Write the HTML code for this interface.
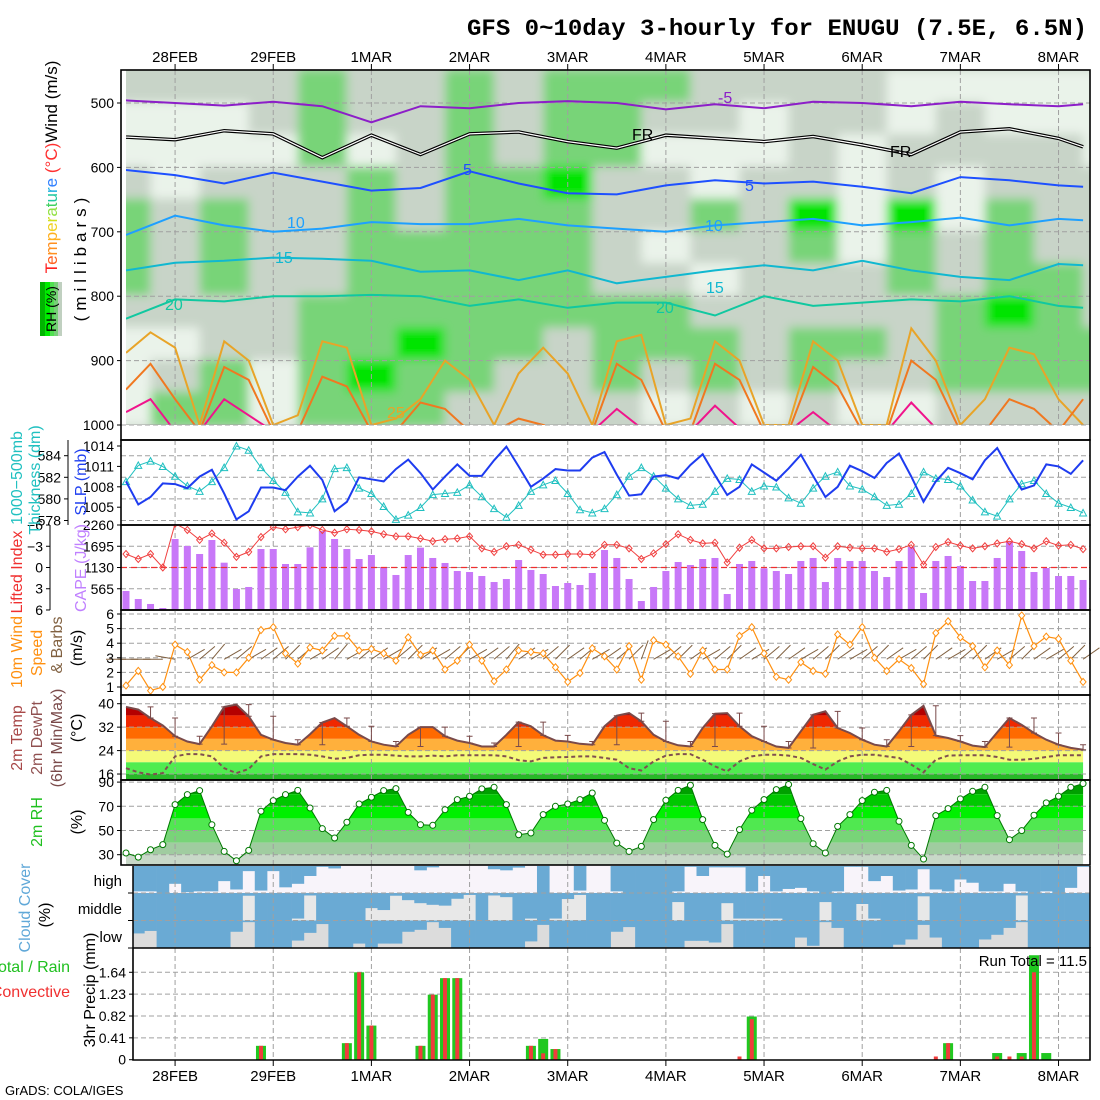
<!DOCTYPE html>
<html><head><meta charset="utf-8"><title>GFS meteogram ENUGU</title>
<style>
html,body{margin:0;padding:0;background:#fff;}
svg{display:block;}
text{font-family:"Liberation Sans",sans-serif;}
</style></head>
<body>
<svg id="c" width="1100" height="1100" viewBox="0 0 1100 1100" xmlns="http://www.w3.org/2000/svg">
<defs>
 <clipPath id="clipTop"><rect x="126" y="70" width="964" height="355"/></clipPath>
 <clipPath id="clipP2"><rect x="121" y="440" width="969" height="85"/></clipPath>
 <clipPath id="clipP3"><rect x="121" y="525" width="969" height="85"/></clipPath>
 <clipPath id="clipP8"><rect x="133" y="948" width="957" height="112"/></clipPath>
 <clipPath id="clipCloud"><rect x="133" y="866" width="957" height="82"/></clipPath>
 <clipPath id="clipTemp"><path id="tempClip" d=""/></clipPath>
 <clipPath id="clipRH"><path id="rhClip" d=""/></clipPath>
 <filter id="blur" x="-5%" y="-5%" width="110%" height="110%"><feGaussianBlur stdDeviation="5"/></filter>
</defs>
<rect x="0" y="0" width="1100" height="1100" fill="#fff"/>
<text x="467" y="35" font-size="23.5" font-weight="bold" textLength="620" lengthAdjust="spacingAndGlyphs" style="font-family:'Liberation Mono',monospace">GFS 0~10day 3-hourly for ENUGU (7.5E, 6.5N)</text>

<g id="gTop"></g>
<g id="gP2"></g>
<g id="gP3"></g>
<g id="gP4"></g>
<g id="gP5"></g>
<g id="gP6"></g>
<g id="gP7"></g>
<g id="gP8"></g>
<g id="gAxis"></g>

<g font-size="17">
 <text transform="translate(57,167) rotate(-90)" text-anchor="middle"><tspan fill="#ff2020">T</tspan><tspan fill="#ff6020">e</tspan><tspan fill="#ff9020">m</tspan><tspan fill="#ffb020">p</tspan><tspan fill="#f0d020">e</tspan><tspan fill="#d0e020">r</tspan><tspan fill="#90e040">a</tspan><tspan fill="#40d060">t</tspan><tspan fill="#20c8a0">u</tspan><tspan fill="#20b0e0">r</tspan><tspan fill="#3080ff">e</tspan><tspan fill="#ff3030"> (°C)</tspan><tspan fill="#000">Wind (m/s)</tspan></text>
 <text transform="translate(86,257) rotate(-90)" text-anchor="middle" letter-spacing="5">(millibars)</text>
 <g>
  <rect x="40" y="282" width="5" height="54" fill="#00b400"/>
  <rect x="45" y="282" width="5" height="54" fill="#00ec00"/>
  <rect x="50" y="282" width="4" height="54" fill="#50e050"/>
  <rect x="54" y="282" width="4" height="54" fill="#78d078"/>
  <rect x="58" y="282" width="4" height="54" fill="#c0d0c0"/>
  <text transform="translate(56,309) rotate(-90)" text-anchor="middle" font-size="14">RH (%)</text>
 </g>
</g>
<g font-size="16">
 <text transform="translate(22,478) rotate(-90)" text-anchor="middle" fill="#20c0c0">1000−500mb</text>
 <text transform="translate(40,480) rotate(-90)" text-anchor="middle" fill="#20c0c0">Thickness (dm)</text>
 <text transform="translate(86,482) rotate(-90)" text-anchor="middle" fill="#2040f0">SLP (mb)</text>
 <text transform="translate(22,572) rotate(-90)" text-anchor="middle" fill="#f03030">Lifted Index</text>
 <text transform="translate(86,568) rotate(-90)" text-anchor="middle" fill="#c080ff">CAPE (J/kg)</text>
 <text transform="translate(22,652) rotate(-90)" text-anchor="middle" fill="#ff9010">10m Wind</text>
 <text transform="translate(42,653) rotate(-90)" text-anchor="middle" fill="#ff9010">Speed</text>
 <text transform="translate(62,645) rotate(-90)" text-anchor="middle" fill="#806040">&amp; Barbs</text>
 <text transform="translate(82,648) rotate(-90)" text-anchor="middle">(m/s)</text>
 <text transform="translate(22,738) rotate(-90)" text-anchor="middle" fill="#a84848">2m Temp</text>
 <text transform="translate(42,738) rotate(-90)" text-anchor="middle" fill="#905050">2m DewPt</text>
 <text transform="translate(62,738) rotate(-90)" text-anchor="middle" fill="#7a4a4a">(6hr Min/Max)</text>
 <text transform="translate(82,728) rotate(-90)" text-anchor="middle">(°C)</text>
 <text transform="translate(42,822) rotate(-90)" text-anchor="middle" fill="#20c020">2m RH</text>
 <text transform="translate(82,822) rotate(-90)" text-anchor="middle">(%)</text>
 <text transform="translate(30,908) rotate(-90)" text-anchor="middle" fill="#60a8d8">Cloud Cover</text>
 <text transform="translate(50,915) rotate(-90)" text-anchor="middle">(%)</text>
 <text x="70" y="972" text-anchor="end" fill="#20c020">Total / Rain</text>
 <text x="70" y="997" text-anchor="end" fill="#f03030">Convective</text>
 <text transform="translate(95,990) rotate(-90)" text-anchor="middle">3hr Precip (mm)</text>
</g>
<text x="5" y="1095" font-size="13">GrADS: COLA/IGES</text>
<text x="1087" y="966" font-size="15" text-anchor="end">Run Total =  11.5</text>
</svg>

<script>
const days = ['28FEB','29FEB','1MAR','2MAR','3MAR','4MAR','5MAR','6MAR','7MAR','8MAR'];
const pressureTicks = [500,600,700,800,900,1000];
const slpTicks = [1014,1011,1008,1005];
const thickTicks = [584,582,580,578];
const capeTicks = [2260,1695,1130,565];
const liTicks = [-6,-3,0,3,6];
const windTicks = [6,5,4,3,2,1];
const tempTicks = [40,32,24,16];
const rhTicks = [90,70,50,30];
const precipTicks = [1.64,1.23,0.82,0.41,0];
const cloudLabels = ['high','middle','low'];

const slp = [1008.8,1005.4,1006.5,1008.5,1008.4,1007.8,1009.5,1010.5,1007.0,1003.2,
1004.4,1007.9,1007.9,1007.5,1009.5,1011.1,1009.0,1004.4,1005.8,1009.4,
1009.1,1008.8,1010.6,1012.0,1010.0,1007.6,1009.5,1011.3,1009.6,1009.6,
1011.9,1013.9,1011.0,1008.0,1009.2,1010.6,1010.4,1010.4,1012.3,1013.1,
1009.8,1006.7,1006.9,1009.5,1009.7,1009.2,1011.2,1012.8,1009.7,1006.8,
1008.0,1011.3,1010.1,1008.9,1010.7,1012.7,1009.6,1006.5,1008.0,1011.1,
1010.3,1009.3,1011.5,1012.9,1009.5,1005.8,1008.8,1010.8,1010.0,1009.1,
1011.9,1013.7,1010.5,1007.6,1008.2,1011.3,1011.0,1009.9,1011.9];
const thickness = [581.6,583.1,583.5,583.0,582.1,581.2,580.7,581.6,582.9,584.9,
584.5,582.9,581.7,580.6,578.8,578.7,580.0,582.8,582.9,581.0,
580.5,579.3,578.1,578.5,579.2,580.4,580.5,580.6,581.3,580.2,
579.1,578.3,579.4,580.7,581.3,581.7,580.5,579.0,578.7,579.1,
580.4,582.1,582.9,582.1,581.0,580.0,579.4,579.5,580.7,581.9,
581.8,580.7,581.2,581.1,580.1,579.6,581.0,582.1,582.5,581.2,
580.9,580.2,579.4,579.5,580.5,582.5,581.9,581.8,581.2,579.9,
578.8,578.4,580.0,581.4,581.7,580.5,579.6,579.2,578.7];
const cape = [505,292,160,53,1888,1702,1489,1861,1258,558,
612,1622,1622,1223,1223,1666,2100,1888,1622,1356,
1462,1143,931,1462,1657,1383,1250,1037,1010,904,
744,824,1329,1064,957,638,718,665,984,1595,
1383,824,239,612,1037,1276,1197,1356,1383,425,
1223,1303,1108,1037,957,1303,1383,744,1383,1303,
1303,1037,877,1303,1675,452,1303,1436,1170,771,
771,1383,1808,1569,1010,1117,904,904,798];
const liftedIndex = [-1.9,-1.2,-1.9,0,-6.2,-5.3,-3.9,-4.8,-3.5,-1.5,
-2.2,-4.3,-5.7,-5.4,-5.7,-6,-5.3,-4.9,-5.4,-5.3,
-5.1,-4.7,-4.4,-4.4,-4.1,-3.7,-4.0,-4.1,-4.4,-2.7,
-2.2,-3.0,-3.2,-2.5,-1.8,-1.8,-1.9,-1.9,-1.8,-3.2,
-3.2,-2.7,-1.2,-2.0,-3.3,-4.7,-3.9,-3.4,-3.5,-0.7,
-2.8,-3.9,-2.7,-2.7,-2.9,-3.0,-3.0,-1.4,-3.0,-2.8,
-2.7,-2.7,-2.2,-2.6,-3.2,-0.4,-2.9,-3.6,-3.1,-2.7,
-3.0,-3.4,-3.7,-3.3,-2.7,-3.7,-3.1,-3.2,-2.6];
const windSpeed = [1.1,2.1,0.75,1.0,3.9,3.4,1.5,2.5,2.0,2.0,
3.0,4.9,5.1,3.3,2.6,3.7,3.5,4.5,4.5,3.5,
3.6,3.3,2.8,4.4,3.2,3.5,2.2,2.8,3.9,2.8,
1.4,2.2,3.5,3.4,3.3,2.35,1.35,1.95,3.65,3.1,
2.2,3.8,1.5,4.2,3.9,3.1,1.9,3.5,2.2,2.2,
4.5,5.1,3.3,1.7,1.5,2.7,2.1,1.9,4.6,3.9,
5.1,3.0,2.1,2.9,2.3,1.2,4.7,5.5,4.4,3.8,
2.35,3.5,2.5,5.9,3.8,4.45,4.3,2.8,1.35];
const windDir = [90,90,90,90,100,240,230,220,240,230,
240,235,230,225,230,240,235,220,240,230,
235,240,230,225,235,240,230,225,240,235,
230,220,235,240,230,225,235,230,240,235,
230,225,200,240,230,225,235,240,230,225,
235,240,230,225,235,240,230,225,235,240,
230,225,235,240,230,225,235,240,230,225,
235,240,230,225,235,240,230,225,235];
const temp2m = [38.9,38.0,35.1,32.6,28.9,27.1,26.2,32.3,38.9,39.7,
35.7,29.4,27.7,26.6,26.0,29.6,33.6,35.1,32.3,29.4,
27.1,26.0,25.4,29.4,32.0,32.0,28.9,27.4,26.6,25.4,
25.4,29.4,33.7,32.3,29.2,27.4,27.1,26.3,26.0,32.3,
35.9,36.8,34.0,29.4,27.1,25.8,25.4,31.7,36.6,36.8,
32.3,28.9,27.1,25.4,24.9,30.6,36.2,37.4,31.7,30.0,
27.7,26.0,25.4,30.6,36.2,39.3,29.1,28.3,27.1,25.7,
25.2,30.2,35.1,32.8,30.0,27.7,26.0,24.9,24.3];
const dewpt2m = [18.0,16.6,15.8,16.3,22.0,22.8,22.8,22.0,18.0,16.3,
17.7,22.0,22.8,22.8,22.8,22.6,22.0,21.2,21.5,22.4,
22.6,22.6,22.3,22.0,22.0,22.3,22.0,22.4,22.4,22.4,
22.4,22.0,20.7,20.3,21.5,21.7,21.8,22.0,22.0,21.5,
20.9,18.0,17.2,20.3,22.3,22.8,22.8,20.9,18.6,16.9,
20.3,22.0,22.6,22.6,22.3,21.5,19.4,17.5,20.3,22.0,
22.6,22.6,22.0,21.5,19.2,16.6,20.9,22.3,22.4,22.4,
22.4,21.8,20.9,20.9,21.2,21.8,22.4,22.4,22.4];
const rh2m = [31.4,28.0,34.1,38.3,71.4,79.7,83.0,54.8,32.7,25.0,
33.6,65.9,74.7,79.7,83.2,68.6,51.5,43.8,56.8,71.9,
77.5,83.0,84.6,65.0,54.8,54.3,67.2,75.5,78.3,84.4,
85.7,71.4,46.5,47.9,63.1,70.0,71.9,75.5,81.0,58.4,
39.6,32.7,36.9,59.0,75.0,83.2,87.4,59.0,37.7,30.5,
50.7,66.7,75.5,83.8,88.0,59.8,39.1,31.4,53.4,63.1,
74.7,81.6,83.2,57.6,37.7,26.4,62.3,68.1,76.1,82.4,
85.7,62.3,42.4,49.9,62.6,72.8,78.3,85.7,88.8];
const cloudHigh = [94,94,94,100,66,97,94,94,56,87,
19,91,19,79,66,37,3,9,0,0,
0,0,0,0,16,5,0,0,0,0,
12,16,6,0,100,0,0,91,0,0,
94,100,100,100,100,94,3,37,5,5,
5,94,37,94,85,81,94,100,94,3,
3,56,37,91,87,12,87,94,50,62,
94,94,66,94,100,94,100,81,3];
const cloudMid = [100,100,100,100,100,100,100,100,100,100,
10,100,100,100,93,9,100,100,100,100,
55,62,10,26,37,43,46,21,7,100,
9,15,100,93,100,93,22,7,100,100,
100,100,100,100,100,33,100,100,100,37,
93,93,93,93,100,100,100,33,100,100,
40,93,100,100,100,12,100,100,100,100,
100,100,100,9,100,100,100,100,100];
const cloudLow = [47,47,38,100,100,100,100,100,100,41,
6,100,100,100,73,45,13,100,100,84,
100,84,84,41,34,6,27,100,100,100,
100,100,100,76,16,100,100,100,100,100,
41,24,100,100,100,100,74,74,80,13,
100,100,100,100,100,62,92,6,27,100,
100,100,100,88,69,16,62,100,100,100,
69,52,27,6,100,100,100,100,100];
const precipTotal = [0,0,0,0,0,0,0,0,0,0,
0,0.26,0,0,0,0,0,0,0.31,1.64,
0.64,0,0,0,0.26,1.22,1.53,1.53,0,0,
0,0,0,0.26,0.39,0.2,0,0,0,0,
0,0,0,0,0,0,0,0,0,0,
0,0.81,0,0,0,0,0,0,0,0,
0,0,0,0,0,0,0,0.31,0,0,
0,0.125,0,0.125,1.96,0.125,0,0,0];
const precipConv = [0,0,0,0,0,0,0,0,0,0,
0,0.26,0,0,0,0,0,0,0.31,1.64,
0.64,0,0,0,0.26,1.22,1.53,1.53,0,0,
0,0,0,0.26,0.12,0.2,0,0,0,0,
0,0,0,0,0,0,0,0,0,0,
0.06,0.76,0,0,0,0,0,0,0,0,
0,0,0,0,0,0,0.06,0.31,0,0,
0,0.06,0.06,0.06,1.64,0,0,0,0];

const rhGrid = [
[1,0,0,1,2,2,2,1,0,0,0],[1,0,0,0,1,1,1,1,0,1,2],[1,0,0,1,2,2,2,1,1,2,2],
[1,1,0,1,1,1,1,1,1,0,0],[2,2,2,1,1,1,1,2,2,2,2],[1,1,0,2,2,2,2,2,2,3,2],
[1,1,1,1,1,2,2,2,3,2,2],[2,2,2,2,2,2,2,2,2,2,1],[1,1,1,2,2,2,2,2,2,1,1],
[2,2,2,3,2,2,2,2,1,1,1],[2,2,2,1,1,1,1,2,2,2,1],[2,1,0,1,1,0,1,2,2,1,0],
[1,1,0,0,2,1,0,1,2,2,1],[1,0,0,1,1,1,1,1,1,1,0],[1,1,1,1,3,2,1,1,2,2,1],
[1,1,0,0,0,0,1,1,2,1,0],[0,0,1,1,3,2,2,1,1,1,0],[0,1,1,0,0,1,1,2,2,2,1],
[0,0,1,1,2,2,2,3,2,2,1],[0,0,1,1,1,1,2,2,2,2,1],[0,0,0,1,1,1,1,1,2,2,1]];
const isoM5 = [496,500,504,498,505,530,505,508,500,497,500,510,502,508,498,500,505,498,502,505,502];
const isoFR = [553,557,543,548,585,550,580,548,545,560,570,550,555,560,552,565,580,545,540,555,568];
const iso5 = [604,612,625,608,622,636,632,606,625,640,642,628,620,625,622,630,640,615,620,628,630];
const iso10 = [705,675,690,700,695,685,688,688,680,690,695,700,690,685,680,690,685,678,690,680,682];
const iso15 = [760,748,745,740,742,745,762,760,775,760,780,770,760,752,760,745,760,770,775,750,752];
const iso20 = [835,805,808,800,800,798,800,815,805,818,810,810,830,800,815,810,805,808,800,815,818];
const iso25 = [888,856,880,1000,870,900,1000,985,870,880,1000,990,960,900,930,1000,920,880,920,1000,870,860,1000,990,870,900,1000,1000,870,900,1000,1000,850,900,1000,960,880,890,960,1000];
const iso30 = [945,905,960,1010,910,930,1010,1010,925,940,1010,1010,965,975,1010,1010,990,1000,1010,1010,905,930,1010,1010,905,930,1010,1010,910,940,1010,1010,900,930,1010,1010,960,975,1010,960];
const iso35 = [980,960,1010,1010,960,985,1010,1010,1010,1010,1010,1010,1010,1010,1010,1010,1010,1010,1010,1010,975,1005,1010,1010,970,1005,1010,1010,980,1010,1010,1010,965,1005,1010,1010,1010,1010,1010,1010];

const NS = 'http://www.w3.org/2000/svg';
function mk(parent, tag, attrs){const e=document.createElementNS(NS,tag);for(const k in attrs)e.setAttribute(k,attrs[k]);parent.appendChild(e);return e;}
const X = i => 126 + 12.27*i;
const YP = p => 103 + (p-500)*0.644;
const Yslp = v => 446 + (1014-v)*6.8;
const Ythk = v => 455.7 + (584-v)*10.8;
const Ycape = v => 610 - v*85/2260;
const Yli = v => 567.5 + v*7.08;
const Ywind = v => 687 - (v-1)*14.6;
const Ytemp = v => 703.7 + (40-v)*2.93;
const Yrh = v => 806.3 - (v-70)*1.21;
const Yprec = v => 1059.7 - v*53.3;
const dayStep = d => 4 + 8*d;
const DASH = '5,3';
const GRID = '#a0a0a0';
function pathFrom(vals, stepsFn, yFn){return vals.map((v,k)=>(k?'L':'M')+X(stepsFn(k)).toFixed(1)+','+yFn(v).toFixed(1)).join(' ');}
const id = k => k;

const gTop=document.getElementById('gTop'), gP2=document.getElementById('gP2'), gP3=document.getElementById('gP3'),
 gP4=document.getElementById('gP4'), gP5=document.getElementById('gP5'), gP6=document.getElementById('gP6'),
 gP7=document.getElementById('gP7'), gP8=document.getElementById('gP8'), gAxis=document.getElementById('gAxis');

function dayGrid(g, y1, y2){
  days.forEach((d,k)=>{
    const l = mk(g,'line',{x1:X(dayStep(k)),x2:X(dayStep(k)),y1:y1,y2:y2,stroke:GRID,'stroke-dasharray':DASH,'stroke-width':1});
    
    
  });
}
function hLine(g, y, x1, x2, name){
  const l = mk(g,'line',{x1:x1,x2:x2,y1:y,y2:y,stroke:GRID,'stroke-dasharray':DASH,'stroke-width':1});
  
  
}
function tickLabel(g, x, y, txt, name, anchor){
  const t = mk(g,'text',{x:x,y:y+5,'font-size':14,'text-anchor':anchor||'end'});
  t.textContent = txt;
  
  
  const tk = mk(g,'line',{x1:x+3,x2:x+7,y1:y,y2:y,stroke:'#000'});
  
  
}
function frame(g, x1, y1, x2, y2, name){
  const r = mk(g,'rect',{x:x1,y:y1,width:x2-x1,height:y2-y1,fill:'none',stroke:'#000','stroke-width':1.6});
  
  
}

(function(){
  const cols=['#eaf3ea','#c8d4c8','#78d478','#00e400'];
  const clipG = mk(gTop,'g',{'clip-path':'url(#clipTop)'});
  
  
  const bg = mk(clipG,'rect',{x:126,y:70,width:964,height:355,fill:'#c8d4c8'});
  
  
  const blurG = mk(clipG,'g',{filter:'url(#blur)'});
  rhGrid.forEach((col,k)=>{
    col.forEach((v,r)=>{
      const x1=X(4*k-2), x2=X(4*k+2), y1=YP(450+50*r), y2=YP(500+50*r);
      const c = mk(blurG,'rect',{x:x1,y:y1-1,width:x2-x1+0.5,height:y2-y1+2,fill:cols[v]});
      
      
    });
  });
  pressureTicks.forEach(p=>hLine(clipG,YP(p),126,1090,'pressure-gridline'));
  dayGrid(clipG,70,425);
  const s12 = k => (k<20 ? 4*k : 78);
  const s6 = k => 2*k;
  const iso=[[isoM5,'#8c1ec8',s12,'isotherm-minus5'],[iso5,'#1e50ff',s12,'isotherm-5'],[iso10,'#1ea0ff',s12,'isotherm-10'],
    [iso15,'#10b8d0',s12,'isotherm-15'],[iso20,'#10c8a0',s12,'isotherm-20'],[iso25,'#e8a428',s6,'isotherm-25'],
    [iso30,'#f07820',s6,'isotherm-30'],[iso35,'#f0148c',s6,'isotherm-35']];
  iso.forEach(([vals,col,sf,name])=>{
    const p = mk(clipG,'path',{d:pathFrom(vals,sf,YP),fill:'none',stroke:col,'stroke-width':2});
    
    
  });
  const fr1 = mk(clipG,'path',{d:pathFrom(isoFR,s12,YP),fill:'none',stroke:'#000','stroke-width':3.5});
  
  
  const fr2 = mk(clipG,'path',{d:pathFrom(isoFR,s12,YP),fill:'none',stroke:'#fff','stroke-width':1.2});
  
  
  const labels=[['-5',718,103,'#8c1ec8'],['FR',632,140,'#000'],['FR',890,157,'#000'],['5',463,175,'#1e50ff'],['5',745,191,'#1e50ff'],
    ['10',287,228,'#1ea0ff'],['10',705,231,'#1ea0ff'],['15',275,263,'#10b8d0'],['15',706,293,'#10b8d0'],['20',165,310,'#10c8a0'],['20',656,313,'#10c8a0'],['25',387,418,'#e8a428']];
  labels.forEach(([t,x,y,c])=>{
    const e = mk(clipG,'text',{x:x,y:y,'font-size':16,fill:c});
    e.textContent=t;
    
    
  });
  const gap = mk(gTop,'line',{x1:121,x2:1090,y1:425,y2:425,stroke:GRID,'stroke-dasharray':DASH});
  
  
  frame(gTop,121,70,1090,440,'upper-air-frame');
  pressureTicks.forEach(p=>tickLabel(gTop,114,YP(p),String(p),'pressure-tick-label'));
})();

(function(){
  thickTicks.forEach(v=>hLine(gP2,Ythk(v),121,1090,'thickness-gridline'));
  dayGrid(gP2,440,525);
  const cg = mk(gP2,'g',{'clip-path':'url(#clipP2)'});
  const th = mk(cg,'path',{d:pathFrom(thickness,id,Ythk),fill:'none',stroke:'#20c0c0','stroke-width':1});
  
  
  thickness.forEach((v,i)=>{
    const x=X(i), y=Ythk(v);
    const m = mk(cg,'path',{d:`M${x-3.5},${y+3} L${x+3.5},${y+3} L${x},${y-3.5} Z`,fill:'none',stroke:'#20c0c0','stroke-width':1});
    
    
  });
  const sl = mk(cg,'path',{d:pathFrom(slp,id,Yslp),fill:'none',stroke:'#1e3cf0','stroke-width':2});
  
  
  frame(gP2,121,440,1090,525,'slp-frame');
  slpTicks.forEach(v=>tickLabel(gP2,114,Yslp(v),String(v),'slp-tick-label'));
  const ax = mk(gP2,'line',{x1:68,x2:68,y1:440,y2:525,stroke:'#000'});
  
  
  thickTicks.forEach(v=>tickLabel(gP2,61,Ythk(v),String(v),'thickness-tick-label'));
})();

(function(){
  capeTicks.forEach(v=>hLine(gP3,Ycape(v),121,1090,'cape-gridline'));
  dayGrid(gP3,525,610);
  const cg = mk(gP3,'g',{'clip-path':'url(#clipP3)'});
  cape.forEach((v,i)=>{
    const b = mk(cg,'rect',{x:X(i)-3.5,y:Ycape(v),width:7,height:610-Ycape(v),fill:'#c878f8'});
    
    
  });
  const z = mk(cg,'line',{x1:121,x2:1090,y1:Yli(0),y2:Yli(0),stroke:'#f03030','stroke-dasharray':'6,4','stroke-width':1.3});
  
  
  const li = mk(cg,'path',{d:pathFrom(liftedIndex,id,Yli),fill:'none',stroke:'#f04040','stroke-width':1});
  
  
  liftedIndex.forEach((v,i)=>{
    const x=X(i), y=Yli(v);
    const m = mk(cg,'path',{d:`M${x-3},${y} L${x},${y-3.5} L${x+3},${y} L${x},${y+3.5} Z`,fill:'none',stroke:'#f04040'});
    
    
  });
  frame(gP3,121,525,1090,610,'cape-frame');
  capeTicks.forEach(v=>tickLabel(gP3,114,Ycape(v),String(v),'cape-tick-label'));
  const ax = mk(gP3,'line',{x1:50,x2:50,y1:525,y2:610,stroke:'#000'});
  
  
  liTicks.forEach(v=>tickLabel(gP3,43,Yli(v),v<0?'−'+(-v):String(v),'li-tick-label'));
})();

(function(){
  windTicks.forEach(v=>hLine(gP4,Ywind(v),121,1090,'wind-gridline'));
  dayGrid(gP4,610,695);
  windDir.forEach((d,i)=>{
    const x=X(i), y=Ywind(2.9), a=d*Math.PI/180, L=20;
    const x2=x+L*Math.sin(a)*-1, y2=y+L*Math.cos(a);
    const s = mk(gP4,'line',{x1:x,y1:y,x2:x2,y2:y2,stroke:'#806040','stroke-width':1});
    
    
  });
  const w = mk(gP4,'path',{d:pathFrom(windSpeed,id,Ywind),fill:'none',stroke:'#ff9010','stroke-width':1.2});
  
  
  windSpeed.forEach((v,i)=>{
    const x=X(i), y=Ywind(v);
    const m = mk(gP4,'path',{d:`M${x-3},${y} L${x},${y-3.5} L${x+3},${y} L${x},${y+3.5} Z`,fill:'#fff',stroke:'#ff9010'});
    
    
  });
  frame(gP4,121,610,1090,695,'wind-frame');
  windTicks.forEach(v=>tickLabel(gP4,114,Ywind(v),String(v),'wind-tick-label'));
})();

(function(){
  let d = 'M'+X(0)+',780 ' + temp2m.map((v,i)=>'L'+X(i).toFixed(1)+','+Ytemp(v).toFixed(1)).join(' ') + ' L'+X(78)+',780 Z';
  document.getElementById('tempClip').setAttribute('d',d);
  const bands=[[44,36,'#b40000'],[36,32,'#f02800'],[32,28,'#ff6a00'],[28,24,'#ffb03c'],[24,20,'#f4fa78'],[20,16,'#50ec50'],[16,10,'#28b828']];
  const bg = mk(gP5,'g',{'clip-path':'url(#clipTemp)'});
  
  
  bands.forEach(([hi,lo,c])=>{
    const y1=Math.max(Ytemp(hi),695), y2=Math.min(Ytemp(lo),780);
    const r = mk(bg,'rect',{x:121,y:y1,width:969,height:y2-y1,fill:c});
    
    
  });
  tempTicks.forEach(v=>hLine(gP5,Ytemp(v),121,1090,'temperature-gridline'));
  dayGrid(gP5,695,780);
  for(let i=2;i<=78;i+=2){
    const win=temp2m.slice(i-2,i+1), mn=Math.min(...win), mx=Math.max(...win), x=X(i);
    const e = mk(gP5,'path',{d:`M${x},${Ytemp(mx)} L${x},${Ytemp(mn)} M${x-3},${Ytemp(mx)} L${x+3},${Ytemp(mx)} M${x-3},${Ytemp(mn)} L${x+3},${Ytemp(mn)}`,stroke:'#7a4a4a',fill:'none','stroke-width':1});
    
    
  }
  const t = mk(gP5,'path',{d:pathFrom(temp2m,id,Ytemp),fill:'none',stroke:'#7a4a4a','stroke-width':2});
  
  
  const dp = mk(gP5,'path',{d:pathFrom(dewpt2m,id,Ytemp),fill:'none',stroke:'#805050','stroke-width':2,'stroke-dasharray':'4,3'});
  
  
  frame(gP5,121,695,1090,780,'temperature-frame');
  tempTicks.forEach(v=>tickLabel(gP5,114,Ytemp(v),String(v),'temperature-tick-label'));
})();

(function(){
  let d = 'M'+X(0)+',865 ' + rh2m.map((v,i)=>'L'+X(i).toFixed(1)+','+Yrh(v).toFixed(1)).join(' ') + ' L'+X(78)+',865 Z';
  document.getElementById('rhClip').setAttribute('d',d);
  const bands=[[100,80,'#00a000'],[80,70,'#00c800'],[70,60,'#00f000'],[60,50,'#50e850'],[50,40,'#78d478'],[40,30,'#a0cca0'],[30,0,'#c8d8c8']];
  const bg = mk(gP6,'g',{'clip-path':'url(#clipRH)'});
  
  
  bands.forEach(([hi,lo,c])=>{
    const y1=Math.max(Yrh(hi),780), y2=Math.min(Yrh(lo),865);
    const r = mk(bg,'rect',{x:121,y:y1,width:969,height:y2-y1,fill:c});
    
    
  });
  rhTicks.forEach(v=>hLine(gP6,Yrh(v),121,1090,'rh-gridline'));
  dayGrid(gP6,780,865);
  const l = mk(gP6,'path',{d:pathFrom(rh2m,id,Yrh),fill:'none',stroke:'#007800','stroke-width':1});
  
  
  rh2m.forEach((v,i)=>{
    const c = mk(gP6,'circle',{cx:X(i),cy:Yrh(v),r:3,fill:'#fff',stroke:'#007800'});
    
    
  });
  frame(gP6,121,780,1090,865,'rh-frame');
  rhTicks.forEach(v=>tickLabel(gP6,114,Yrh(v),String(v),'rh-tick-label'));
})();

(function(){
  const cg = mk(gP7,'g',{'clip-path':'url(#clipCloud)'});
  const rows=[[cloudHigh,866,893,'#f8f4fa'],[cloudMid,893,920.5,'#e8e8e8'],[cloudLow,920.5,948,'#dcdcdc']];
  rows.forEach(([vals,y1,y2,bgc],r)=>{
    const bgr = mk(cg,'rect',{x:133,y:y1,width:957,height:y2-y1,fill:bgc});
    
    
    vals.forEach((v,i)=>{
      const h=(y2-y1)*v/100;
      const b = mk(cg,'rect',{x:X(i)-6.2,y:y1,width:12.6,height:h,fill:'#6aaad4'});
      
      
    });
  });
  hLine(cg,893,133,1090,'cloud-row-divider');
  hLine(cg,920.5,133,1090,'cloud-row-divider');
  dayGrid(cg,866,948);
  [[881,'high'],[909,'middle'],[937,'low']].forEach(([y,t])=>{
    const e = mk(gP7,'text',{x:122,y:y+5,'font-size':15,'text-anchor':'end'});
    e.textContent=t;
    
    
  });
  [893,920.5,948].forEach(y=>{
    const tk = mk(gP7,'line',{x1:128,x2:133,y1:y,y2:y,stroke:'#000'});
    
    
  });
  const ax = mk(gP7,'line',{x1:133,x2:133,y1:866,y2:948,stroke:'#000','stroke-width':1.5});
  
  
  const rb = mk(gP7,'line',{x1:1090,x2:1090,y1:866,y2:948,stroke:'#000','stroke-width':1.5});
  
  
})();

(function(){
  precipTicks.forEach(v=>{ if(v>0) hLine(gP8,Yprec(v),133,1090,'precip-gridline'); });
  dayGrid(gP8,948,1060);
  const cg = mk(gP8,'g',{'clip-path':'url(#clipP8)'});
  precipTotal.forEach((v,i)=>{
    if(v<=0) return;
    const b = mk(cg,'rect',{x:X(i)-5,y:Yprec(v),width:10,height:1059.7-Yprec(v),fill:'#20c820'});
    
    
  });
  precipConv.forEach((v,i)=>{
    if(v<=0) return;
    const b = mk(cg,'rect',{x:X(i)-2,y:Yprec(v),width:4,height:1059.7-Yprec(v),fill:'#f03c3c'});
    
    
  });
  const fr = mk(gP8,'path',{d:'M133,948 L133,1060 L1090,1060 L1090,948 L133,948',fill:'none',stroke:'#000','stroke-width':1.6});
  
  
  precipTicks.forEach(v=>tickLabel(gP8,126,Yprec(v),String(v),'precip-tick-label'));
})();

(function(){
  days.forEach((d,k)=>{
    const x=X(dayStep(k));
    const t1 = mk(gAxis,'text',{x:x,y:62,'font-size':15,'text-anchor':'middle'});
    t1.textContent=d;
    
    
    const k1 = mk(gAxis,'line',{x1:x,x2:x,y1:64,y2:70,stroke:'#000'});
    
    
    const t2 = mk(gAxis,'text',{x:x,y:1081,'font-size':15,'text-anchor':'middle'});
    t2.textContent=d;
    
    
    const k2 = mk(gAxis,'line',{x1:x,x2:x,y1:1060,y2:1066,stroke:'#000'});
    
    
  });
})();
</script>
</body></html>
